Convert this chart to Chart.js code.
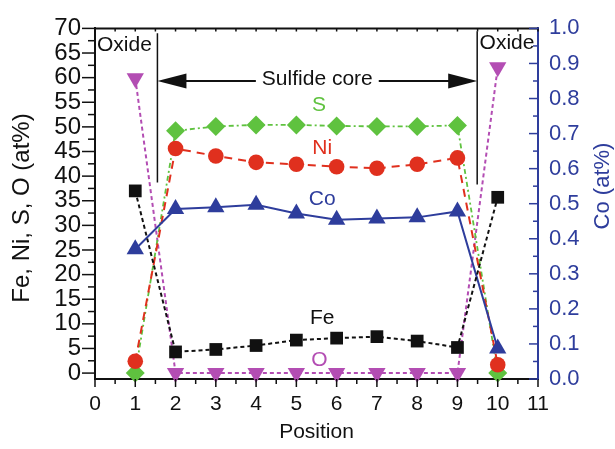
<!DOCTYPE html>
<html>
<head>
<meta charset="utf-8">
<script src="https://cdn.jsdelivr.net/npm/chart.js@4.4.1/dist/chart.umd.min.js"></script>
<style>
  html, body { margin: 0; padding: 0; background: #fff; }
  #wrap { width: 615px; height: 449px; }
</style>
</head>
<body>
<div id="wrap"><canvas id="profileChart" width="615" height="449"></canvas></div>
<script>
// values
const positions = [1, 2, 3, 4, 5, 6, 7, 8, 9, 10];
const feValues = [37.0, 4.3, 4.8, 5.6, 6.7, 7.1, 7.4, 6.5, 5.2, 35.7];
const niValues = [2.4, 45.6, 44.1, 42.8, 42.4, 41.9, 41.6, 42.4, 43.7, 1.7];
const sValues = [0, 49.2, 50.1, 50.4, 50.4, 50.2, 50.1, 50.1, 50.3, 0];
const oValues = [59.9, 0, 0, 0, 0, 0, 0, 0, 0, 62.1];
const coValues = [0.37, 0.485, 0.49, 0.497, 0.472, 0.454, 0.458, 0.461, 0.478, 0.087];

const xTicks = [0, 1, 2, 3, 4, 5, 6, 7, 8, 9, 10, 11];
const leftTicks = [0, 5, 10, 15, 20, 25, 30, 35, 40, 45, 50, 55, 60, 65, 70];
const rightTicks = [0, 0.1, 0.2, 0.3, 0.4, 0.5, 0.6, 0.7, 0.8, 0.9, 1.0];

// core / oxide boundaries (position units)
const coreStart = 1.55;
const coreEnd = 9.49;

const BLACK = '#111111';
const RED = '#e0301e';
const GREEN = '#5fc23f';
const BLUE = '#2e3d9c';
const MAGENTA = '#b34db3';
const FONT = '"Liberation Sans", Arial, sans-serif';

function toPoints(vals) {
  return positions.map((p, i) => ({ x: p, y: vals[i] }));
}

function rotatedText(ctx, text, cx, cy, size, color) {
  ctx.save();
  ctx.fillStyle = color;
  ctx.font = size + 'px ' + FONT;
  ctx.textAlign = 'center';
  ctx.textBaseline = 'middle';
  ctx.translate(cx, cy);
  ctx.rotate(-Math.PI / 2);
  ctx.fillText(text, 0, 0);
  ctx.restore();
}

const decorations = {
  id: 'decorations',
  afterDraw(chart) {
    const { ctx, chartArea: a, scales: { x, y, y1 } } = chart;
    ctx.save();

    // top frame
    ctx.strokeStyle = BLACK;
    ctx.lineWidth = 2;
    ctx.beginPath();
    ctx.moveTo(a.left - 1, a.top);
    ctx.lineTo(a.right, a.top);
    ctx.stroke();

    // x ticks, majors + halves, bottom outward / top inward
    ctx.lineWidth = 1.5;
    xTicks.forEach((v, i) => {
      const marks = i < xTicks.length - 1 ? [v, v + 0.5] : [v];
      marks.forEach((m, k) => {
        const px = x.getPixelForValue(m);
        ctx.beginPath();
        ctx.moveTo(px, a.bottom);
        ctx.lineTo(px, a.bottom + (k === 0 ? 8 : 5));
        ctx.moveTo(px, a.top);
        ctx.lineTo(px, a.top + 3);
        ctx.stroke();
      });
    });

    // left ticks outward
    leftTicks.forEach((v, i) => {
      const marks = i < leftTicks.length - 1 ? [v, v + 2.5] : [v];
      marks.forEach((m, k) => {
        const py = y.getPixelForValue(m);
        ctx.beginPath();
        ctx.moveTo(a.left, py);
        ctx.lineTo(a.left - (k === 0 ? 13 : 7), py);
        ctx.stroke();
      });
    });

    // right ticks inward
    ctx.strokeStyle = BLUE;
    rightTicks.forEach((v, i) => {
      const marks = i < rightTicks.length - 1 ? [v, v + 0.05] : [v];
      marks.forEach((m, k) => {
        const py = y1.getPixelForValue(m);
        ctx.beginPath();
        ctx.moveTo(a.right, py);
        ctx.lineTo(a.right - (k === 0 ? 9 : 5), py);
        ctx.stroke();
      });
    });
    ctx.restore();

    // axis titles that read bottom to top
    rotatedText(ctx, 'Fe, Ni, S, O (at%)', 22, 208, 24, BLACK);
    rotatedText(ctx, 'Co (at%)', 603, 186, 22, BLUE);

    // boundaries + sulfide core arrow
    ctx.save();
    ctx.strokeStyle = BLACK;
    ctx.fillStyle = BLACK;
    ctx.lineWidth = 1.5;
    const xs = x.getPixelForValue(coreStart);
    const xe = x.getPixelForValue(coreEnd);
    ctx.beginPath();
    ctx.moveTo(xs, y.getPixelForValue(69));
    ctx.lineTo(xs, y.getPixelForValue(38.7));
    ctx.moveTo(xe, y.getPixelForValue(69.4));
    ctx.lineTo(xe, y.getPixelForValue(38.3));
    ctx.stroke();

    const ay = y.getPixelForValue(59.3);
    const mid = x.getPixelForValue(5.52);
    ctx.font = '21px ' + FONT;
    ctx.textAlign = 'center';
    ctx.textBaseline = 'middle';
    ctx.fillText('Sulfide core', mid, ay - 2);
    const half = ctx.measureText('Sulfide core').width / 2 + 6;
    ctx.lineWidth = 2;
    ctx.beginPath();
    ctx.moveTo(xs + 20, ay);
    ctx.lineTo(mid - half, ay);
    ctx.moveTo(mid + half, ay);
    ctx.lineTo(xe - 20, ay);
    ctx.stroke();
    [[xs, 1], [xe, -1]].forEach(([tip, dir]) => {
      ctx.beginPath();
      ctx.moveTo(tip, ay);
      ctx.lineTo(tip + dir * 29, ay - 7.5);
      ctx.lineTo(tip + dir * 29, ay + 7.5);
      ctx.closePath();
      ctx.fill();
    });

    ctx.textAlign = 'left';
    ctx.fillText('Oxide', x.getPixelForValue(0.05), y.getPixelForValue(66.6));
    ctx.fillText('Oxide', x.getPixelForValue(9.55), y.getPixelForValue(67));

    // series labels
    ctx.textAlign = 'center';
    const labels = [
      ['S', GREEN, 5.56, 54.5],
      ['Ni', RED, 5.64, 45.6],
      ['Co', BLUE, 5.64, 35.3],
      ['Fe', BLACK, 5.64, 11.1],
      ['O', MAGENTA, 5.57, 2.6]
    ];
    labels.forEach(([t, c, lx, ly]) => {
      ctx.fillStyle = c;
      ctx.fillText(t, x.getPixelForValue(lx), y.getPixelForValue(ly));
    });
    ctx.restore();
  }
};

function series(label, vals, color, style, radius, dash, axis, extra) {
  return Object.assign({
    label: label,
    data: toPoints(vals),
    yAxisID: axis,
    borderColor: color,
    backgroundColor: color,
    pointBackgroundColor: color,
    pointBorderColor: color,
    pointBorderWidth: 0,
    borderWidth: 2,
    borderDash: dash,
    pointStyle: style,
    pointRadius: radius,
    pointHoverRadius: radius,
    tension: 0,
    clip: false
  }, extra || {});
}

const ctx = document.getElementById('profileChart').getContext('2d');
new Chart(ctx, {
  type: 'line',
  data: {
    datasets: [
      series('Fe', feValues, BLACK, 'rect', 9, [4, 3], 'y'),
      series('Co', coValues, BLUE, 'triangle', 10, [], 'y1'),
      series('Ni', niValues, RED, 'circle', 7.8, [8, 6], 'y'),
      series('S', sValues, GREEN, 'rectRot', 9.5, [5, 3, 2, 3], 'y', { borderWidth: 1.8 }),
      series('O', oValues, MAGENTA, 'triangle', 10, [4, 3], 'y', { pointRotation: 180 })
    ]
  },
  options: {
    responsive: false,
    animation: false,
    devicePixelRatio: 1,
    layout: { padding: { top: 20, left: 0, right: 0, bottom: 0 } },
    plugins: {
      legend: { display: false },
      tooltip: { enabled: false }
    },
    scales: {
      x: {
        type: 'linear',
        min: 0,
        max: 11,
        afterBuildTicks: (s) => { s.ticks = xTicks.map(v => ({ value: v })); },
        afterFit: (s) => { s.height = 70; },
        grid: { display: false, drawTicks: false },
        border: { display: true, color: BLACK, width: 2 },
        ticks: { color: BLACK, padding: 13, autoSkip: false, font: { family: FONT, size: 21 }, maxRotation: 0 },
        title: { display: true, text: 'Position', color: BLACK, font: { family: FONT, size: 21 }, padding: { top: 0, bottom: 4 } }
      },
      y: {
        position: 'left',
        min: -1.2,
        max: 70,
        afterBuildTicks: (s) => { s.ticks = leftTicks.map(v => ({ value: v })); },
        afterFit: (s) => { s.width = 95; },
        grid: { display: false, drawTicks: false },
        border: { display: true, color: BLACK, width: 2 },
        ticks: { color: BLACK, padding: 14, autoSkip: false, font: { family: FONT, size: 24 } }
      },
      y1: {
        position: 'right',
        min: 0,
        max: 1.0,
        afterBuildTicks: (s) => { s.ticks = rightTicks.map(v => ({ value: v })); },
        afterFit: (s) => { s.width = 77; },
        grid: { display: false, drawTicks: false },
        border: { display: true, color: BLUE, width: 2 },
        ticks: {
          color: BLUE,
          padding: 11,
          autoSkip: false,
          font: { family: FONT, size: 22 },
          callback: (v) => Number(v).toFixed(1)
        }
      }
    }
  },
  plugins: [decorations]
});
</script>
</body>
</html>
